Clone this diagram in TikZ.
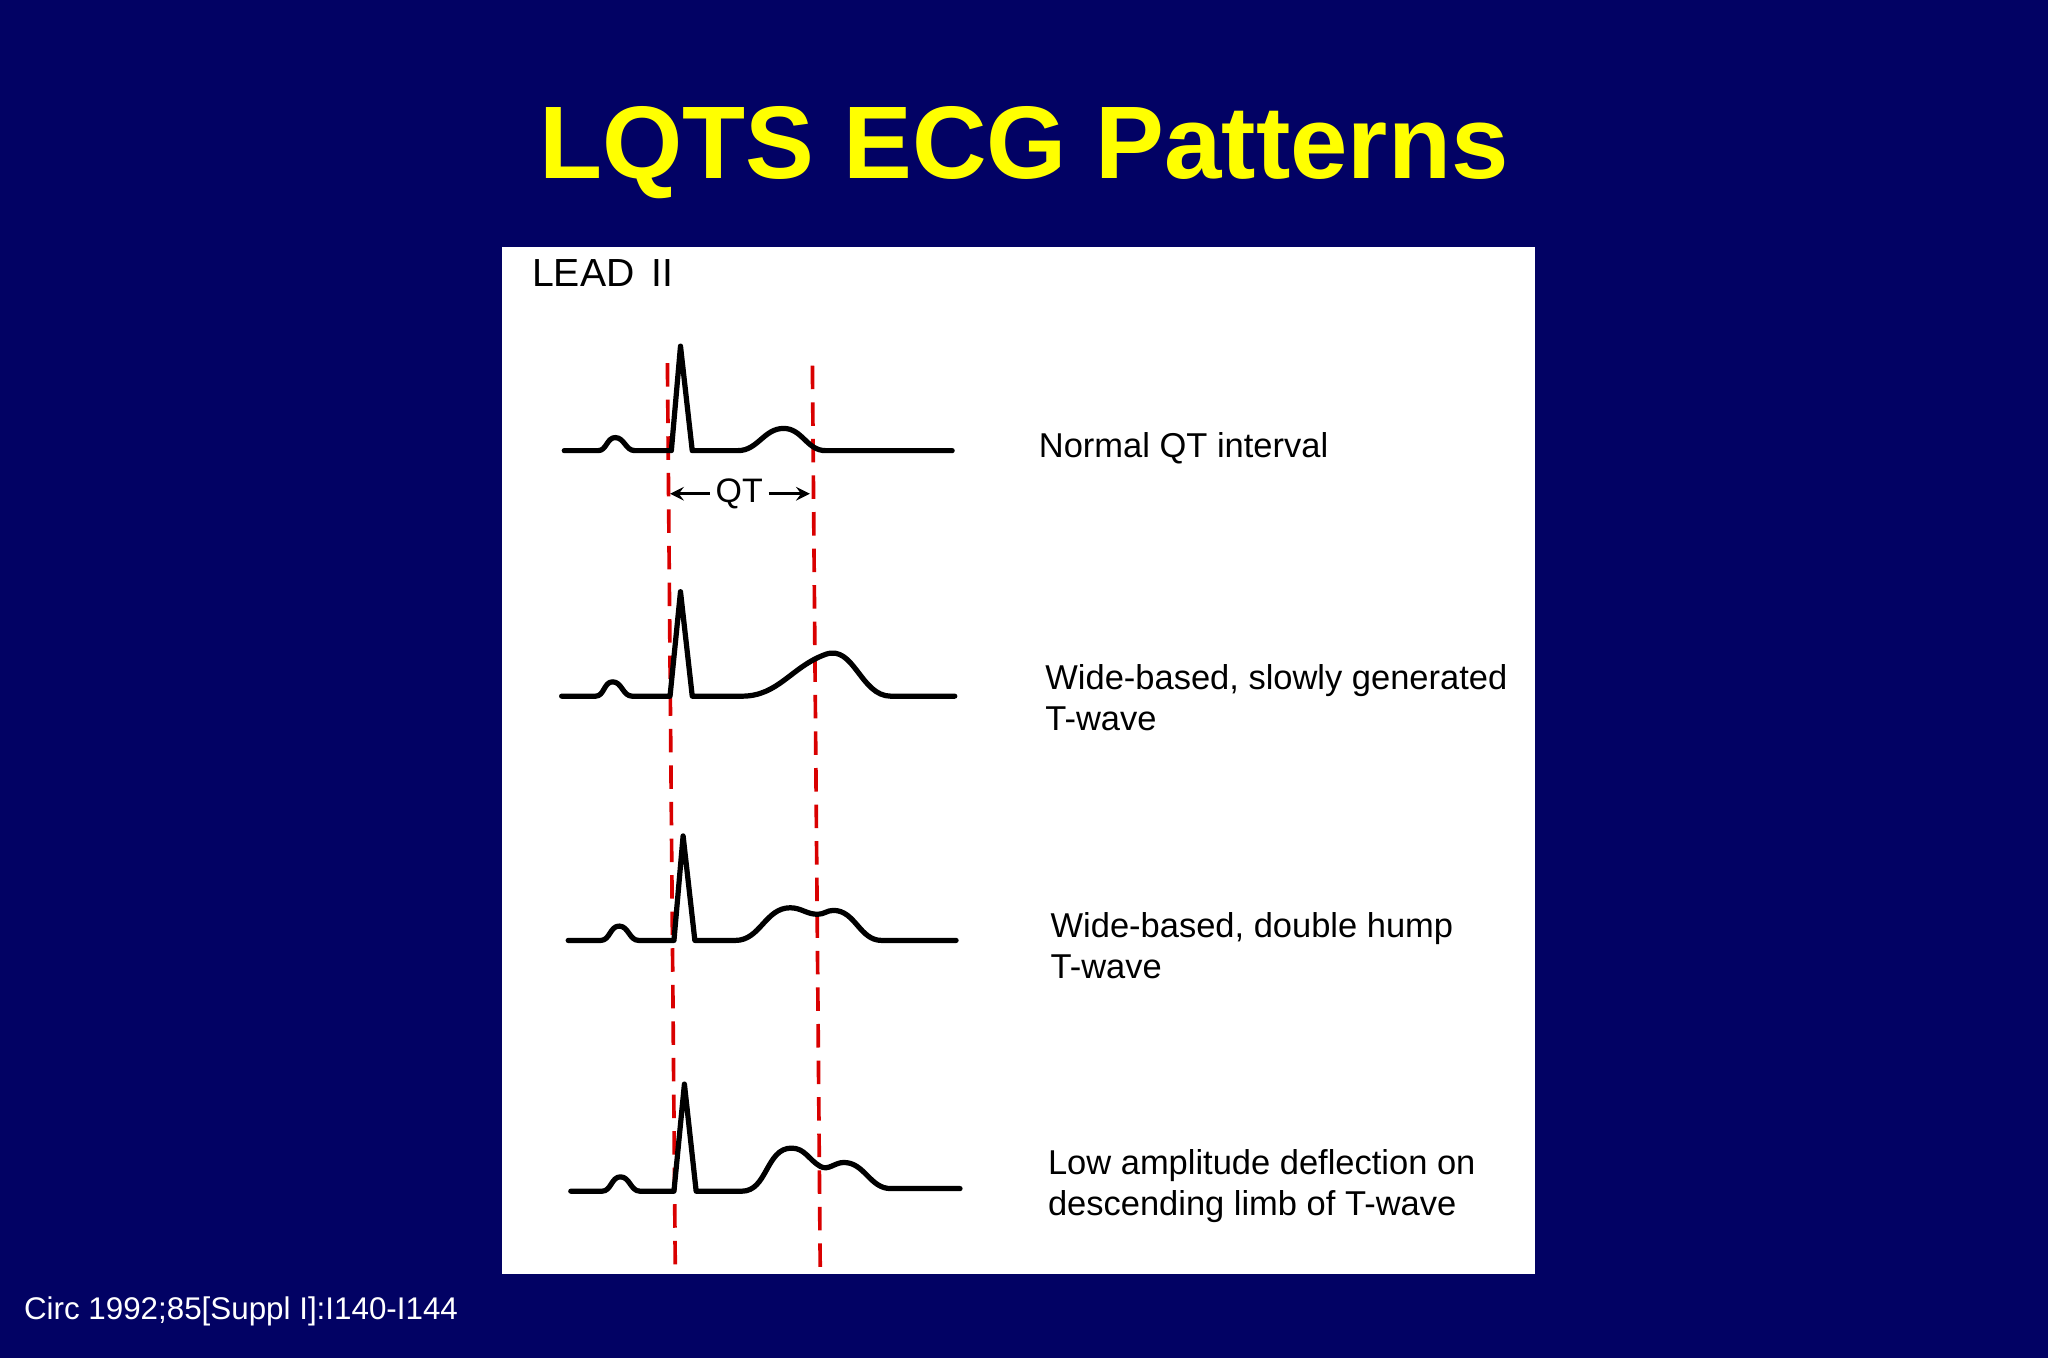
\documentclass[tikz,border=0pt]{standalone}
\usepackage{fontspec}
\setmainfont{Liberation Sans}
\definecolor{navy}{RGB}{2,2,100}
\definecolor{ttl}{RGB}{255,255,0}
\begin{document}
\begin{tikzpicture}[x=0.5pt,y=-0.5pt,
  ecg/.style={line width=2pt,line join=round,line cap=round},
  qt/.style={red!85!black,line width=1.4pt,dash pattern=on 9pt off 5pt},
  lbl/.style={anchor=west,align=left,font=\fontsize{13.2}{15.5}\selectfont,inner sep=0pt},
  box/.style={fill=white}]
\fill[navy] (0,0) rectangle (1568,1040);
\useasboundingbox (0,0) rectangle (1568,1040);
\node[font=\fontsize{39.5}{44}\selectfont\bfseries,text=ttl] (title) at (784,117) {LQTS ECG Patterns};
\node[box,minimum width=395.5pt,minimum height=393pt,inner sep=0pt,anchor=north west] (panel) at (384,189) {};
\node[anchor=west,inner sep=0pt,font=\fontsize{15}{17}\selectfont] (lead) at (407,209) {LEAD\, II};
% red QT lines
\coordinate (l1) at (511,278); \coordinate (l2) at (517,970);
\coordinate (r1) at (622,280); \coordinate (r2) at (628,973);
\draw[qt] (l1) -- (l2);
\draw[qt] (r1) -- (r2);
% trace 1
\draw[ecg] (432,345) -- (458,345) to[out=0,in=180] (471,335) to[out=0,in=180] (486,345) -- (514,345) -- (521,265) -- (530,345) -- (565,345)
  to[out=0,in=180] (600,328) to[out=0,in=180] (632,345) -- (729,345);
% trace 2
\draw[ecg] (430,533) -- (456,533) to[out=0,in=180] (469,522) to[out=0,in=180] (484,533) -- (513,533) -- (521,453) -- (530,533) -- (568,533)
  to[out=0,in=200] (632,501) to[out=20,in=180] (682,533) -- (731,533);
% trace 3
\draw[ecg] (435,720) -- (460,720) to[out=0,in=180] (474,709) to[out=0,in=180] (489,720) -- (516,720) -- (523,640) -- (532,720) -- (563,720)
  to[out=0,in=180] (605,695) to[out=0,in=180] (626,700) to[out=0,in=180] (638,697) to[out=0,in=180] (675,720) -- (732,720);
% trace 4
\draw[ecg] (437,912) -- (461,912) to[out=0,in=180] (475,901) to[out=0,in=180] (490,912) -- (516,912) -- (524,830) -- (533,912) -- (568,912)
  to[out=0,in=180] (606,879) to[out=0,in=150] (628,893) to[out=-30,in=180] (646,890) to[out=0,in=180] (682,910) -- (735,910);
% QT arrow
\node[inner sep=2pt,font=\fontsize{13}{15}\selectfont] (qtl) at (566,378) {QT};
\coordinate (qa) at (513,378); \coordinate (qb) at (620,378);
\draw[-stealth,line width=1.3pt] (qtl.west) -- (qa);
\draw[-stealth,line width=1.3pt] (qtl.east) -- (qb);
% labels
\node[lbl] (n1) at (795,343) {Normal QT interval};
\node[lbl] (n2) at (800,534) {Wide-based, slowly generated\\T-wave};
\node[lbl] (n3) at (804,724) {Wide-based, double hump\\T-wave};
\node[lbl] (n4) at (802,908) {Low amplitude deflection on\\descending limb of T-wave};
\node[anchor=west,inner sep=0pt,text=white,font=\fontsize{12}{14}\selectfont] (cite) at (18,1004) {Circ 1992;85[Suppl I]:I140-I144};
\end{tikzpicture}
\end{document}
